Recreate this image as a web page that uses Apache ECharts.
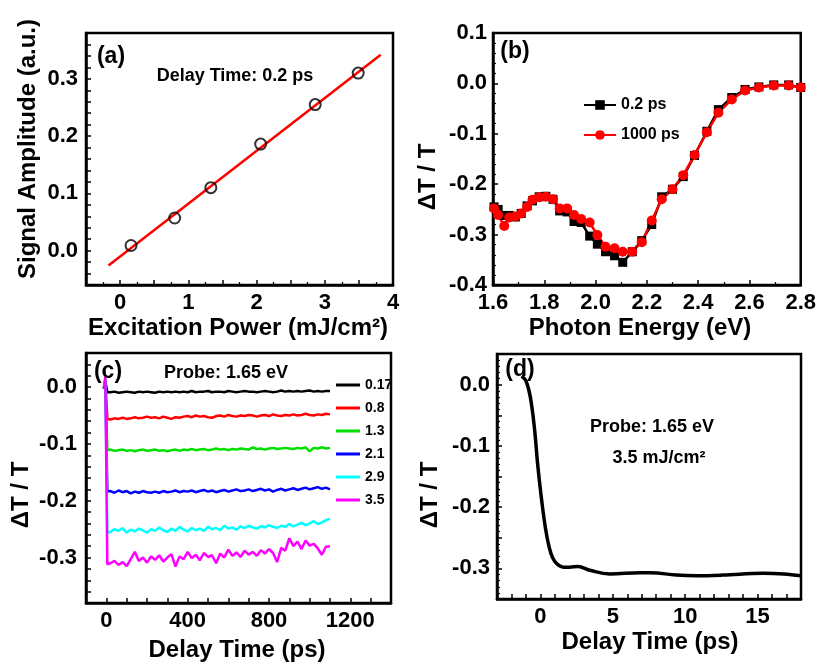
<!DOCTYPE html>
<html>
<head>
<meta charset="utf-8">
<script src="https://cdn.jsdelivr.net/npm/echarts@6/dist/echarts.min.js"></script>
<style>html,body{margin:0;padding:0;background:#fff;}#c{width:819px;height:663px;}</style>
</head>
<body>
<div id="c"></div>
<script>
// ---- Panel (a) ----
const aPower = [0.16, 0.80, 1.33, 2.06, 2.86, 3.49];
const aSignal = [0.009, 0.057, 0.110, 0.186, 0.255, 0.310];
const aFitX = [-0.17, 3.82];
const aFitY = [-0.026, 0.342];

// ---- Panel (b) ----
const bEnergy = [1.604,1.62,1.644,1.663,1.687,1.71,1.733,1.754,1.78,1.806,1.834,1.86,1.889,1.916,1.944,1.977,2.007,2.039,2.074,2.106,2.143,2.18,2.219,2.258,2.3,2.342,2.386,2.434,2.479,2.531,2.583,2.637,2.695,2.753,2.8];
const b02ps = [-0.245,-0.25,-0.262,-0.262,-0.265,-0.258,-0.243,-0.233,-0.225,-0.224,-0.23,-0.253,-0.255,-0.274,-0.276,-0.303,-0.319,-0.334,-0.342,-0.355,-0.334,-0.312,-0.28,-0.225,-0.21,-0.185,-0.143,-0.095,-0.052,-0.028,-0.012,-0.007,-0.003,-0.003,-0.008];
const b1000ps = [-0.248,-0.261,-0.283,-0.266,-0.264,-0.258,-0.245,-0.231,-0.226,-0.225,-0.23,-0.248,-0.248,-0.261,-0.269,-0.276,-0.301,-0.324,-0.327,-0.334,-0.334,-0.315,-0.272,-0.23,-0.21,-0.182,-0.142,-0.097,-0.058,-0.032,-0.014,-0.008,-0.004,-0.004,-0.008];

// ---- Panel (c) ----
const cTime = [-12,-5,0,5,
  20,40,60,80,100,120,140,160,180,200,220,
  240,260,280,300,320,340,360,380,400,420,440,
  460,480,500,520,540,560,580,600,620,640,660,
  680,700,720,740,760,780,800,820,840,860,880,
  900,920,940,960,980,1000,1020,1040,1060,1080,1100];
const cNames = ['0.17','0.8','1.3','2.1','2.9','3.5'];
const cColors = ['#000000','#ff0000','#00e000','#0000ff','#00ffff','#ff00ff'];
const c017 = [-0.003,0.010,0.008,-0.009,
  -0.009,-0.008,-0.010,-0.009,-0.008,-0.009,-0.010,-0.008,-0.009,-0.008,-0.009,
  -0.010,-0.008,-0.009,-0.008,-0.009,-0.008,-0.009,-0.008,-0.009,-0.007,-0.009,
  -0.008,-0.008,-0.007,-0.009,-0.008,-0.008,-0.009,-0.007,-0.008,-0.009,-0.008,
  -0.007,-0.008,-0.008,-0.009,-0.008,-0.007,-0.008,-0.009,-0.008,-0.006,-0.008,
  -0.007,-0.008,-0.007,-0.008,-0.007,-0.006,-0.008,-0.007,-0.008,-0.007,-0.007];
const c08 = [-0.003,0.011,0.009,-0.056,
  -0.057,-0.055,-0.056,-0.054,-0.056,-0.055,-0.053,-0.055,-0.054,-0.052,-0.054,
  -0.053,-0.055,-0.052,-0.054,-0.056,-0.053,-0.054,-0.052,-0.051,-0.053,-0.050,
  -0.052,-0.051,-0.053,-0.054,-0.051,-0.050,-0.052,-0.049,-0.051,-0.052,-0.050,
  -0.051,-0.049,-0.050,-0.052,-0.050,-0.049,-0.051,-0.048,-0.050,-0.051,-0.049,
  -0.050,-0.048,-0.050,-0.049,-0.047,-0.049,-0.050,-0.048,-0.049,-0.047,-0.048];
const c13 = [-0.002,0.012,0.010,-0.111,
  -0.110,-0.112,-0.111,-0.110,-0.112,-0.111,-0.113,-0.111,-0.110,-0.112,-0.111,
  -0.110,-0.112,-0.111,-0.113,-0.111,-0.110,-0.112,-0.110,-0.111,-0.109,-0.111,
  -0.110,-0.109,-0.111,-0.110,-0.108,-0.110,-0.109,-0.111,-0.109,-0.110,-0.108,
  -0.109,-0.110,-0.106,-0.109,-0.108,-0.110,-0.108,-0.107,-0.109,-0.108,-0.107,
  -0.108,-0.109,-0.107,-0.108,-0.106,-0.113,-0.107,-0.108,-0.106,-0.108,-0.107];
const c21 = [-0.002,0.013,0.011,-0.184,
  -0.183,-0.186,-0.182,-0.185,-0.183,-0.187,-0.184,-0.186,-0.183,-0.185,-0.186,
  -0.184,-0.186,-0.183,-0.185,-0.184,-0.182,-0.185,-0.183,-0.184,-0.182,-0.185,
  -0.183,-0.181,-0.184,-0.182,-0.185,-0.183,-0.181,-0.184,-0.182,-0.180,-0.183,
  -0.182,-0.180,-0.183,-0.181,-0.179,-0.182,-0.180,-0.184,-0.181,-0.179,-0.182,
  -0.180,-0.178,-0.181,-0.179,-0.177,-0.180,-0.178,-0.176,-0.179,-0.177,-0.180];
const c29 = [-0.001,0.015,0.012,-0.256,
  -0.255,-0.250,-0.253,-0.248,-0.256,-0.251,-0.254,-0.249,-0.252,-0.256,-0.250,
  -0.253,-0.247,-0.252,-0.255,-0.249,-0.253,-0.246,-0.251,-0.254,-0.248,-0.252,
  -0.249,-0.253,-0.246,-0.250,-0.248,-0.252,-0.244,-0.249,-0.247,-0.251,-0.245,
  -0.248,-0.244,-0.247,-0.249,-0.245,-0.247,-0.243,-0.246,-0.248,-0.244,-0.246,
  -0.241,-0.245,-0.242,-0.239,-0.243,-0.240,-0.236,-0.241,-0.238,-0.234,-0.232];
const c35 = [-0.002,0.018,0.015,-0.312,
  -0.310,-0.306,-0.313,-0.308,-0.315,-0.303,-0.290,-0.306,-0.300,-0.309,-0.298,
  -0.304,-0.296,-0.307,-0.300,-0.294,-0.316,-0.298,-0.303,-0.290,-0.301,-0.295,
  -0.305,-0.292,-0.299,-0.296,-0.310,-0.293,-0.300,-0.286,-0.297,-0.291,-0.299,
  -0.288,-0.295,-0.290,-0.297,-0.287,-0.293,-0.285,-0.292,-0.308,-0.283,-0.288,
  -0.266,-0.280,-0.272,-0.285,-0.270,-0.279,-0.276,-0.284,-0.295,-0.281,-0.280];
const cValues = [c017, c08, c13, c21, c29, c35];

// ---- Panel (d) ----
const dTime = [-1.3,-1.0,-0.7,-0.4,-0.2,0.05,0.35,0.6,0.85,1.2,1.6,2.0,2.6,3.4,4.8,6.9,7.6,9.4,10.8,12.6,15.4,16.8,18.0];
const dValue = [0.014,0.006,-0.020,-0.074,-0.128,-0.182,-0.235,-0.265,-0.283,-0.294,-0.298,-0.298,-0.297,-0.303,-0.309,-0.307,-0.307,-0.311,-0.312,-0.311,-0.308,-0.309,-0.312];

const FONT = '"Liberation Sans", Arial, Helvetica, sans-serif';
const pair = (xs, ys) => xs.map((x, i) => [x, ys[i]]);
const isMult = (v, step) => Math.abs(v / step - Math.round(v / step)) < 1e-6;
const f1 = v => (Math.abs(v) < 1e-9 ? '0.0' : v.toFixed(1));

function axis(o) {
  return Object.assign({
    type: 'value',
    splitLine: { show: false },
    axisLine: { show: true, onZero: false, lineStyle: { color: '#000', width: 2.5 } },
    axisTick: { show: true, inside: true, length: 5, lineStyle: { color: '#000', width: 1.5 } },
    axisLabel: { color: '#000', fontWeight: 'bold', fontSize: 22, fontFamily: FONT, margin: 7 }
  }, o);
}

const gridBase = { show: true, borderColor: '#000', borderWidth: 2.5, backgroundColor: 'rgba(0,0,0,0)' };

const chart = echarts.init(document.getElementById('c'), null, { renderer: 'canvas' });

const series = [
  { type: 'line', xAxisIndex: 0, yAxisIndex: 0, data: pair(aFitX, aFitY), symbol: 'none',
    lineStyle: { color: '#ff0000', width: 2.5 }, z: 2 },
  { type: 'scatter', xAxisIndex: 0, yAxisIndex: 0, data: pair(aPower, aSignal), symbol: 'circle', symbolSize: 11,
    itemStyle: { color: 'rgba(0,0,0,0)', borderColor: '#000', borderWidth: 2 }, z: 3 },
  { name: '0.2 ps', type: 'line', xAxisIndex: 1, yAxisIndex: 1, data: pair(bEnergy, b02ps), symbol: 'rect', symbolSize: 9,
    lineStyle: { color: '#000', width: 2.5 }, itemStyle: { color: '#000' } },
  { name: '1000 ps', type: 'line', xAxisIndex: 1, yAxisIndex: 1, data: pair(bEnergy, b1000ps), symbol: 'circle', symbolSize: 10,
    lineStyle: { color: '#ff0000', width: 2.5 }, itemStyle: { color: '#ff0000' } }
];
cNames.forEach((n, k) => {
  series.push({ name: n, type: 'line', xAxisIndex: 2, yAxisIndex: 2, data: pair(cTime, cValues[k]), symbol: 'none',
    lineStyle: { color: cColors[k], width: 2.5 }, itemStyle: { color: cColors[k] } });
});
series.push({ type: 'line', xAxisIndex: 3, yAxisIndex: 3, data: pair(dTime, dValue), symbol: 'none', smooth: 0.4,
  lineStyle: { color: '#000', width: 3.5 } });

const txt = (t, x, y, size, rot) => ({
  type: 'text', x: x, y: y, rotation: rot || 0, z: 100,
  style: { text: t, font: 'bold ' + size + 'px ' + FONT, fill: '#000', textAlign: 'center', textVerticalAlign: 'middle' }
});

chart.setOption({
  animation: false,
  backgroundColor: '#fff',
  grid: [
    Object.assign({ left: 86, top: 33, width: 307, height: 252 }, gridBase),
    Object.assign({ left: 493, top: 33, width: 309, height: 252 }, gridBase),
    Object.assign({ left: 86, top: 353, width: 305, height: 250 }, gridBase),
    Object.assign({ left: 497, top: 354, width: 304, height: 245 }, gridBase)
  ],
  xAxis: [
    axis({ gridIndex: 0, min: -0.5, max: 4, interval: 0.5, minorTick: { show: true, splitNumber: 2, length: 3, lineStyle: { color: '#000', width: 1.2 } },
      axisLabel: Object.assign({}, axis({}).axisLabel, { formatter: v => isMult(v, 1) ? String(Math.round(v)) : '' }) }),
    axis({ gridIndex: 1, min: 1.6, max: 2.8, interval: 0.2, minorTick: { show: true, splitNumber: 2, length: 3, lineStyle: { color: '#000', width: 1.2 } },
      axisLabel: Object.assign({}, axis({}).axisLabel, { formatter: v => v.toFixed(1) }) }),
    axis({ gridIndex: 2, min: -100, max: 1400, interval: 100,
      axisLabel: Object.assign({}, axis({}).axisLabel, { formatter: v => isMult(v, 400) ? String(Math.round(v)) : '' }) }),
    axis({ gridIndex: 3, min: -3, max: 18, interval: 1,
      axisLabel: Object.assign({}, axis({}).axisLabel, { formatter: v => isMult(v, 5) ? String(Math.round(v)) : '' }) })
  ],
  yAxis: [
    axis({ gridIndex: 0, min: -0.06, max: 0.38, interval: 0.02,
      axisLabel: Object.assign({}, axis({}).axisLabel, { margin: 8, formatter: v => isMult(v, 0.1) ? f1(v) : '' }) }),
    axis({ gridIndex: 1, min: -0.4, max: 0.1, interval: 0.1, minorTick: { show: true, splitNumber: 5, length: 3, lineStyle: { color: '#000', width: 1.2 } },
      axisLabel: Object.assign({}, axis({}).axisLabel, { margin: 6, formatter: v => f1(v) }) }),
    axis({ gridIndex: 2, min: -0.38, max: 0.06, interval: 0.02,
      axisLabel: Object.assign({}, axis({}).axisLabel, { margin: 9, formatter: v => isMult(v, 0.1) ? f1(v) : '' }) }),
    axis({ gridIndex: 3, min: -0.35, max: 0.05, interval: 0.05, minorTick: { show: true, splitNumber: 5, length: 3, lineStyle: { color: '#000', width: 1.2 } },
      axisLabel: Object.assign({}, axis({}).axisLabel, { margin: 7, formatter: v => isMult(v, 0.1) ? f1(v) : '' }) })
  ],
  legend: [
    { data: ['0.2 ps', '1000 ps'], orient: 'vertical', left: 578, top: 92, itemWidth: 32, itemHeight: 12, itemGap: 14,
      textStyle: { color: '#000', fontWeight: 'bold', fontSize: 16, fontFamily: FONT }, selectedMode: false },
    { data: cNames, orient: 'vertical', left: 331, top: 373, icon: 'rect', itemWidth: 24, itemHeight: 3, itemGap: 9,
      textStyle: { color: '#000', fontWeight: 'bold', fontSize: 14, fontFamily: FONT }, selectedMode: false }
  ],
  graphic: [
    txt('Signal Amplitude (a.u.)', 28, 149, 24, Math.PI / 2),
    txt('Excitation Power (mJ/cm²)', 238, 328, 24),
    txt('ΔT / T', 428, 177, 24, Math.PI / 2),
    txt('Photon Energy (eV)', 640, 328, 24),
    txt('ΔT / T', 21, 495, 24, Math.PI / 2),
    txt('Delay Time (ps)', 237, 650, 24),
    txt('ΔT / T', 430, 495, 24, Math.PI / 2),
    txt('Delay Time (ps)', 650, 642, 24),
    txt('(a)', 111, 57, 23),
    txt('(b)', 515, 52, 23),
    txt('(c)', 108, 372, 23),
    txt('(d)', 520, 370, 23),
    txt('Delay Time: 0.2 ps', 235, 76, 18),
    txt('Probe: 1.65 eV', 226, 373, 18),
    txt('Probe: 1.65 eV', 652, 427, 18),
    txt('3.5 mJ/cm²', 659, 458, 18)
  ],
  series: series
});
</script>
</body>
</html>
